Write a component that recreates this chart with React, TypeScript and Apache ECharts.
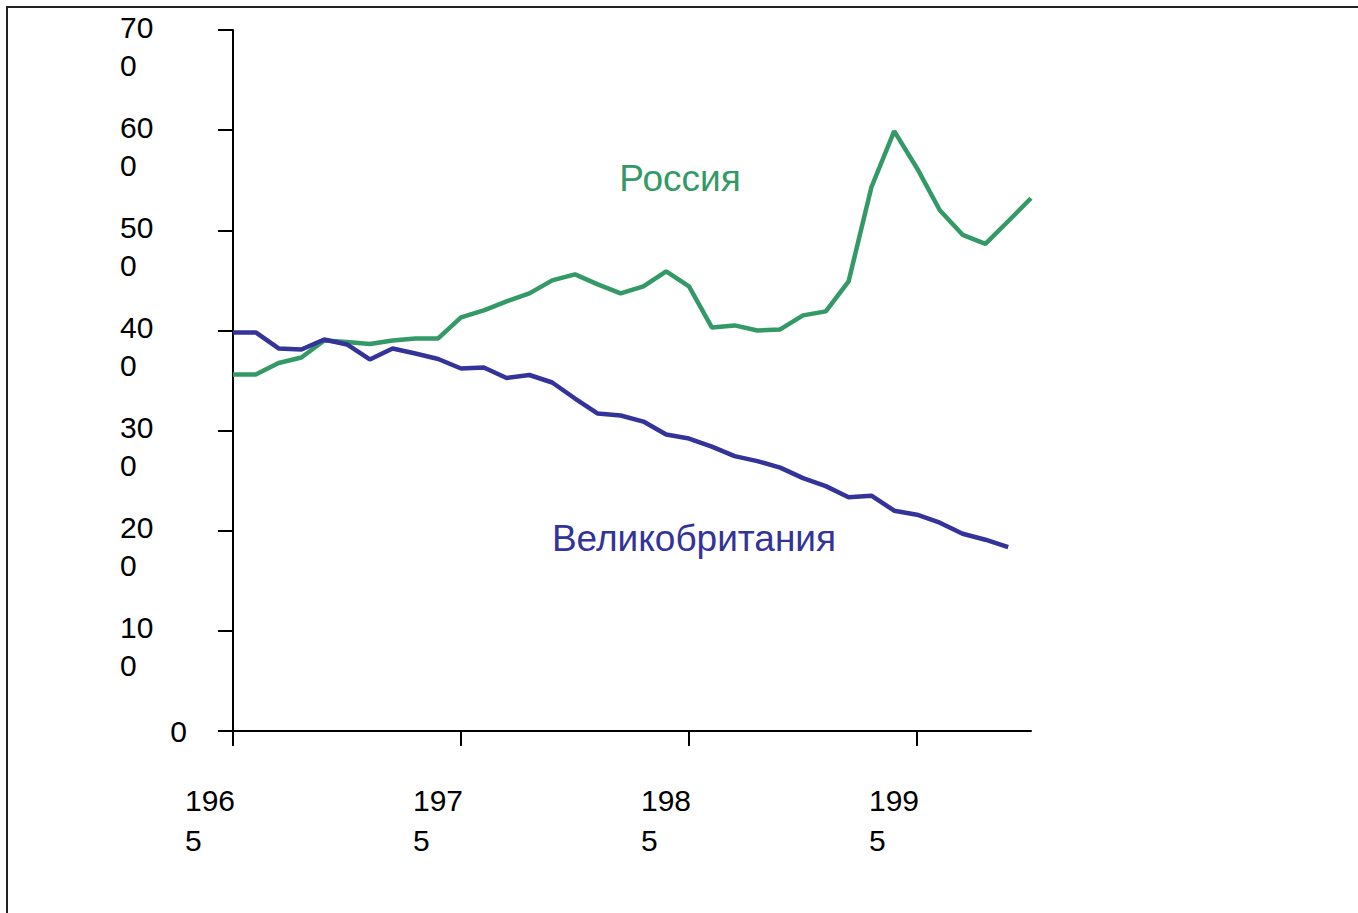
import React, { useEffect, useRef } from "react";
import * as echarts from "echarts";

const years: string[] = [];
for (let y = 1965; y <= 2000; y++) years.push(String(y));

const labeledYears = ["1965", "1975", "1985", "1995"];

const ukValues = [
  398, 398, 382, 381, 391, 386, 371, 382, 377, 371.5, 362, 363, 352.5, 355.5,
  348, 332, 317, 315, 309, 296, 292, 284, 274.5, 269.5, 263, 252.5, 244.5,
  233.5, 235, 220, 216, 208, 197, 191, 183.5,
];

const russiaValues = [
  356, 356, 367.5, 373, 390, 388.5, 386.5, 390, 392, 392, 413, 420, 429, 437,
  450, 456, 446, 437, 444, 459, 444, 403, 405, 400, 401, 415, 419, 449, 543,
  599, 562, 520, 495.5, 486.5, 509, 532,
];

const seriesNames = ["Россия", "Великобритания"];
const FONT = "'Liberation Sans', Arial, sans-serif";
const GREEN = "#339966";
const BLUE = "#333399";

function splitLabel(s: string): [string, string] {
  return [s.slice(0, s.length - 1), s.slice(s.length - 1)];
}

export default function App() {
  const ref = useRef<HTMLDivElement>(null);

  useEffect(() => {
    if (!ref.current) return;
    const chart = echarts.init(ref.current, undefined, { renderer: "svg" });
    const option: any = {
      animation: false,
      textStyle: { fontFamily: FONT },
      grid: {
        left: 225,
        top: 22,
        width: 798,
        height: 701,
        containLabel: false,
        outerBoundsMode: "none",
      },
      xAxis: {
        type: "category",
        data: years,
        boundaryGap: false,
        axisLine: { show: true, lineStyle: { color: "#000", width: 2 } },
        axisTick: {
          show: true,
          length: 15,
          lineStyle: { color: "#000", width: 2 },
          interval: (_i: number, v: string) => labeledYears.indexOf(v) >= 0,
        },
        axisLabel: {
          show: true,
          interval: (_i: number, v: string) => labeledYears.indexOf(v) >= 0,
          margin: 49,
          align: "center",
          formatter: (v: string) => {
            const [a, b] = splitLabel(v);
            return `{a|${a}}\n{a|${b}}`;
          },
          rich: {
            a: {
              width: 96,
              align: "left",
              fontSize: 30,
              lineHeight: 40,
              color: "#000",
              fontFamily: FONT,
            },
          },
        },
        splitLine: { show: false },
      },
      yAxis: {
        type: "value",
        min: 0,
        max: 700,
        interval: 100,
        axisLine: { show: true, lineStyle: { color: "#000", width: 2 } },
        axisTick: { show: true, length: 15, lineStyle: { color: "#000", width: 2 } },
        splitLine: { show: false },
        axisLabel: {
          margin: 46,
          align: "right",
          formatter: (v: number) => {
            const s = String(v);
            if (s.length < 2) return `{b|${s}}`;
            const [a, b] = splitLabel(s);
            return `{s| }\n{a|${a}}\n{a|${b}}`;
          },
          rich: {
            s: { fontSize: 10, lineHeight: 32, align: "left", width: 67 },
            a: {
              width: 67,
              align: "left",
              fontSize: 30,
              lineHeight: 38,
              color: "#000",
              fontFamily: FONT,
            },
            b: { fontSize: 30, lineHeight: 38, color: "#000", fontFamily: FONT },
          },
        },
      },
      series: [
        {
          name: seriesNames[0],
          type: "line",
          data: russiaValues,
          symbol: "none",
          lineStyle: { color: GREEN, width: 4.5 },
          itemStyle: { color: GREEN },
        },
        {
          name: seriesNames[1],
          type: "line",
          data: ukValues,
          symbol: "none",
          lineStyle: { color: BLUE, width: 4.5 },
          itemStyle: { color: BLUE },
        },
      ],
      graphic: [
        {
          type: "text",
          x: 672,
          y: 170,
          style: {
            text: seriesNames[0],
            fill: GREEN,
            fontSize: 37,
            fontFamily: FONT,
            align: "center",
            verticalAlign: "middle",
          },
        },
        {
          type: "text",
          x: 686,
          y: 530,
          style: {
            text: seriesNames[1],
            fill: BLUE,
            fontSize: 37,
            fontFamily: FONT,
            align: "center",
            verticalAlign: "middle",
          },
        },
      ],
    };
    chart.setOption(option);
    return () => chart.dispose();
  }, []);

  return (
    <div style={{ position: "fixed", left: 0, top: 0, right: 0, bottom: 0, overflow: "hidden", background: "#fff" }}>
      <div
        style={{
          position: "absolute",
          left: 6,
          top: 6,
          width: 1400,
          height: 950,
          border: "2px solid #222",
          boxSizing: "border-box",
        }}
      >
        <div ref={ref} style={{ position: "absolute", left: 0, top: 0, width: 1396, height: 946 }} />
      </div>
    </div>
  );
}
